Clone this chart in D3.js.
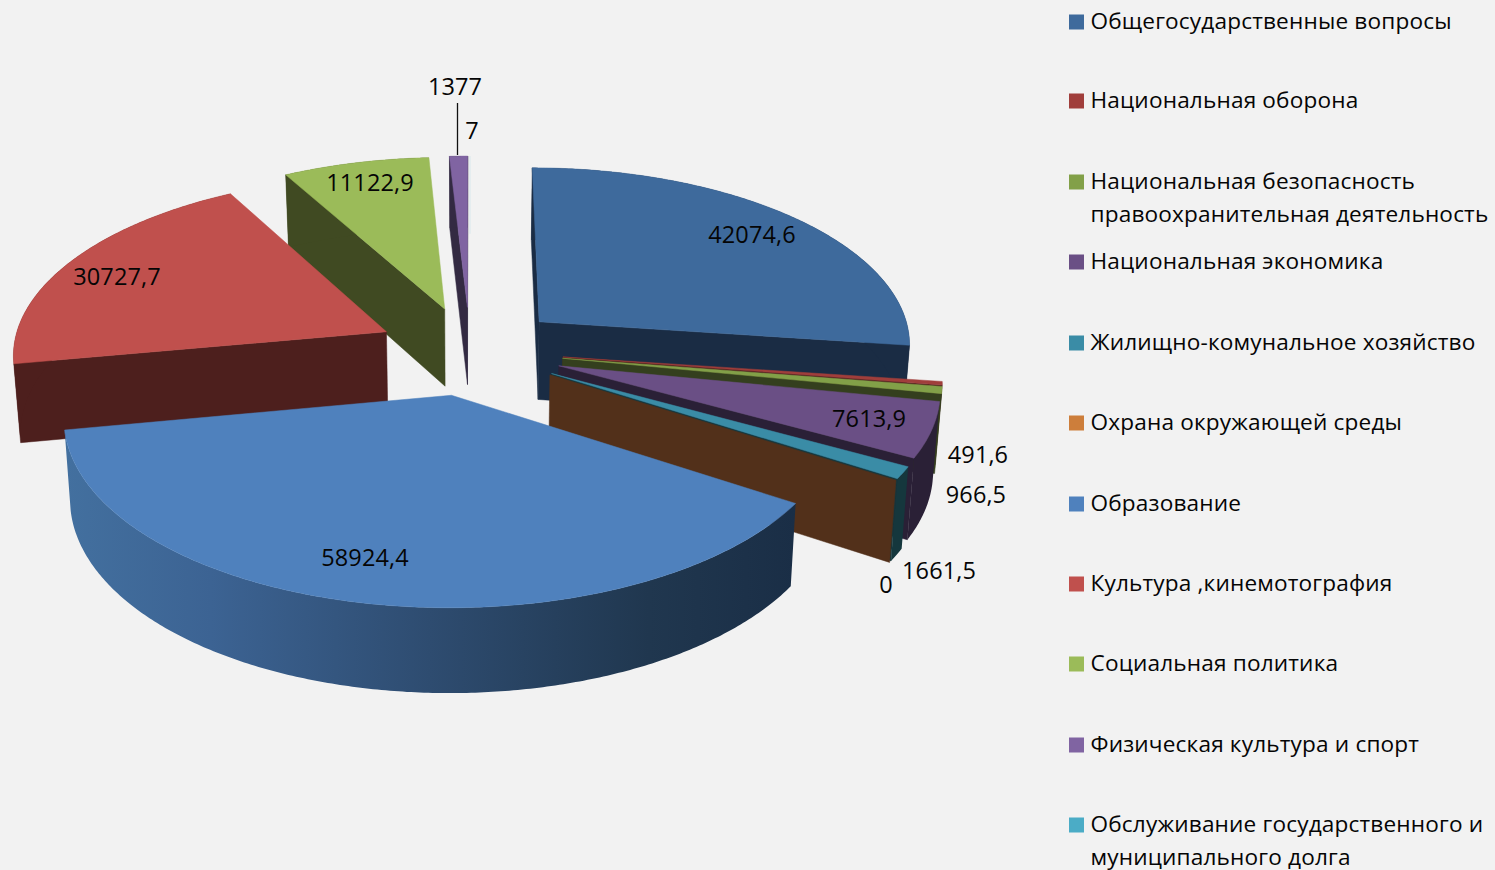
<!DOCTYPE html>
<html><head><meta charset="utf-8">
<script src="https://cdn.jsdelivr.net/npm/d3@7/dist/d3.min.js"></script>
<style>html,body{margin:0;padding:0;background:#f2f2f2;overflow:hidden}
text{font-family:"Open Sans","Noto Sans",sans-serif;fill:#050505}</style>
</head><body><svg id="c" width="1495" height="870"></svg>
<script>
// ---- data ----
const categories = ["Общегосударственные вопросы","Национальная оборона","Национальная безопасность правоохранительная деятельность","Национальная экономика","Жилищно-комунальное хозяйство","Охрана окружающей среды","Образование","Культура ,кинемотография","Социальная политика","Физическая культура и спорт","Обслуживание государственного и муниципального долга"];
const values = [42074.6,491.6,966.5,7613.9,1661.5,0,58924.4,30727.7,11122.9,1377.7,0];
const valueLabels = ["42074,6","491,6","966,5","7613,9","1661,5","0","58924,4","30727,7","11122,9","1377|7",""];
// ---- styles / layout ----
const topColors  = ["#3e6a9c","#a03e3b","#82a048","#6a4f85","#3a8ca6","#cd7e3b","#4f81bd","#c0504d","#9bbb59","#8064a2","#4bacc6"];
const wallColors = ["#1a2c44","#4a1e1d","#343f1e","#2a2036","#15373d","#52301a","#2e4c70","#4d1f1d","#404a22","#332a42","#1e4a55"];
const legendLines = [["Общегосударственные вопросы"],["Национальная оборона"],["Национальная безопасность","правоохранительная деятельность"],["Национальная экономика"],["Жилищно-комунальное хозяйство"],["Охрана окружающей среды"],["Образование"],["Культура ,кинемотография"],["Социальная политика"],["Физическая культура и спорт"],["Обслуживание государственного и","муниципального долга"]];
const legendY = [22,101,182,262,343,423,504,584,664,745,825];
const labelPos = [[752,235],[978,455],[976,495],[869,419],[939,571],[886,585],[365,558],[117,277],[370,183],[455,87],null];

const svg = d3.select("#c");
const CX=470, EXPLODE = 0.25, PERSP = 0.113, BOTTOM_SHRINK = 0.985;
const xS = d3.scaleLinear().domain([-1,1]).range([CX-374,CX+374]);
const yS = d3.scaleLinear().domain([-1,1]).range([350.5-177.5,350.5+177.5]);
const dS = d3.scaleLinear().domain([-1,1]).range([73,84]);
function proj(X,Y){ const w=1-PERSP*Y; return [xS(X/w), yS(Y/w)]; }
function projB(X,Y){ const p=proj(X,Y); return [CX+(p[0]-CX)*BOTTOM_SHRINK, p[1]+dS(Y)]; }
const line = d3.line().curve(d3.curveLinear);

const arcs = d3.pie().sort(null).value(d=>d).startAngle(0).endAngle(2*Math.PI)(values);
const slices = arcs.map((a,i)=>{
  const m=(a.startAngle+a.endAngle)/2;
  const ox=EXPLODE*Math.sin(m), oy=-EXPLODE*Math.cos(m);
  const rim=t=>[ox+Math.sin(t), oy-Math.cos(t)];
  return {i,a,ox,oy,rim};
});
// back to front
const order = slices.slice().sort((p,q)=>p.oy-q.oy);
const defs = svg.append("defs");
const eduGrad = defs.append("linearGradient").attr("id","eduWall").attr("gradientUnits","userSpaceOnUse")
  .attr("x1",65).attr("x2",795).attr("y1",0).attr("y2",0);
[[0,"#43709f"],[0.2,"#3c6393"],[0.5,"#2e4c70"],[0.8,"#20374f"],[1,"#1a2e46"]].forEach(s=>eduGrad.append("stop").attr("offset",s[0]).attr("stop-color",s[1]));

const g = svg.append("g");
order.forEach(s=>{
  const {i,a,ox,oy,rim}=s;
  const wall = i===6 ? "url(#eduWall)" : wallColors[i];
  if (i===10){ // zero-width slice: only a faint sliver of its rim is visible
    const e=rim(a.startAngle), t=proj(e[0],e[1]), b=projB(e[0],e[1]);
    g.append("path").attr("d",line([t,[t[0],b[1]+6]])).attr("stroke",topColors[i]).attr("stroke-opacity",0.15).attr("stroke-width",1);
    return;
  }
  const apexT=proj(ox,oy), apexB=projB(ox,oy);
  const radial=(t,isStart)=>{
    const e=rim(t), eT=proj(e[0],e[1]), eB=projB(e[0],e[1]);
    const cross=(eT[0]-apexT[0])*(apexB[1]-apexT[1])-(eT[1]-apexT[1])*(apexB[0]-apexT[0]);
    if ((isStart && cross<0) || (!isStart && cross>0))
      g.append("path").attr("d",line([apexT,eT,eB,apexB])+"Z").attr("fill",wallColors[i]).attr("stroke",wallColors[i]).attr("stroke-width",0.5);
  };
  radial(a.startAngle,true); radial(a.endAngle,false);
  const n=Math.max(2,Math.ceil((a.endAngle-a.startAngle)/0.01));
  const ts=d3.range(n+1).map(k=>a.startAngle+(a.endAngle-a.startAngle)*k/n);
  const topArc=ts.map(t=>{const e=rim(t);return proj(e[0],e[1]);});
  const botArc=ts.map(t=>{const e=rim(t);return projB(e[0],e[1]);});
  if (a.endAngle>a.startAngle){
    g.append("path").attr("d",line(topArc.concat(botArc.slice().reverse()))+"Z").attr("fill",wall);
    g.append("path").attr("d",line([apexT].concat(topArc))+"Z").attr("fill",topColors[i]).attr("stroke",topColors[i]).attr("stroke-width",0.5);
  }
});

// leader line
svg.append("line").attr("x1",457.5).attr("x2",457.5).attr("y1",103).attr("y2",155).attr("stroke","#111").attr("stroke-width",1.3);

// data labels
const LABEL_SIZE=23.5;
const addLabel=(x,y,t)=>svg.append("text").attr("x",x).attr("y",y).attr("text-anchor","middle").attr("font-size",LABEL_SIZE).attr("letter-spacing",0.1).text(t);
valueLabels.forEach((t,i)=>{
  if(!t) return;
  const p=labelPos[i];
  if(t.includes("|")){
    const [u,v]=t.split("|");
    addLabel(p[0],p[1]+7.8,u);
    addLabel(p[0]+17,p[1]+51.8,v);
  } else addLabel(p[0],p[1]+7.8,t);
});

// legend
const lg=svg.append("g").selectAll("g").data(categories).join("g");
lg.append("rect").attr("x",1069).attr("y",(d,i)=>legendY[i]-7.5).attr("width",15).attr("height",15).attr("fill",(d,i)=>topColors[i]);
lg.each(function(d,i){
  legendLines[i].forEach((l,k)=>{
    d3.select(this).append("text").attr("x",1090.5).attr("y",legendY[i]+7+k*32.5).attr("font-size",22.6).attr("letter-spacing",0.17).text(l);
  });
});
</script></body></html>
